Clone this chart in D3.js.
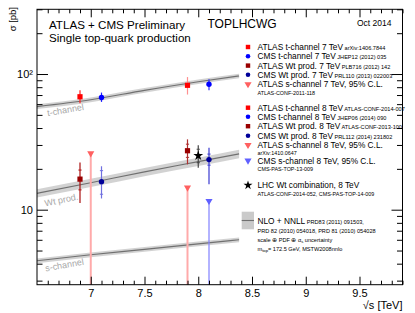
<!DOCTYPE html>
<html>
<head>
<meta charset="utf-8">
<script src="https://cdn.jsdelivr.net/npm/d3@7"></script>
<style>
	body { margin: 0; background: #fff; }
	svg text { font-family: "Liberation Sans", Arial, Helvetica, sans-serif; }
</style>
</head>
<body>
<svg id="chart" width="415" height="313"></svg>
<script>
// theory curves (NLO+NNLL)
var theorySqrts = [6.5, 7.0, 7.5, 8.0, 8.38];
var theoryT = [57.5, 64.6, 75.8, 87.8, 96.8];
var theoryWt = [13.2, 15.8, 19.0, 22.6, 25.8];
var theoryS = [4.2, 4.65, 5.1, 5.6, 6.0];
var theoryUnc = [0.04, 0.07, 0.04];
var theoryNames = ['t-channel', 'Wt prod.', 's-channel'];

// measurements
var measNames = ['ATLAS t 7', 'CMS t 7', 'ATLAS Wt 7', 'CMS Wt 7', 'ATLAS t 8', 'CMS t 8', 'ATLAS Wt 8', 'LHC Wt 8', 'CMS Wt 8'];
var measSqrts = [6.9, 7.1, 6.9, 7.1, 7.9, 8.1, 7.9, 8.0, 8.1];
var measXsec = [68.0, 67.2, 16.8, 16.1, 82.6, 84.0, 27.2, 25.0, 23.4];
var measHi = [76.0, 73.0, 22.3, 20.9, 95.0, 91.4, 33.0, 29.9, 28.6];
var measLo = [61.0, 62.3, 11.2, 12.1, 70.6, 75.8, 21.6, 20.4, 15.4];
var statHi = [null, null, 19.6, 19.4, null, null, 30.4, 27.9, 25.7];
var statLo = [null, null, 14.0, 13.0, null, null, 24.3, 22.2, 21.3];

// s-channel 95% C.L. limits
var limitNames = ['ATLAS s 7', 'ATLAS s 8', 'CMS s 8'];
var limitSqrts = [7.0, 7.9, 8.1];
var limitXsec = [26.5, 14.8, 11.8];

// axis ticks
var xMajor = [7, 7.5, 8, 8.5, 9, 9.5];
var yMajor = [10, 100];
var yMajorLabels = ['10', '10²'];

var measStyle = [
	{ sym: 'square', fill: '#ff0000', bar: '#ff2020' },
	{ sym: 'circle', fill: '#0000ff', bar: '#2020ff' },
	{ sym: 'square', fill: '#990000', bar: '#aa1010' },
	{ sym: 'circle', fill: '#000099', bar: '#7070e0' },
	{ sym: 'square', fill: '#ff0000', bar: '#ff9090' },
	{ sym: 'circle', fill: '#0000ff', bar: '#3030ff' },
	{ sym: 'square', fill: '#990000', bar: '#b03030' },
	{ sym: 'star', fill: '#000000', bar: '#444444' },
	{ sym: 'circle', fill: '#000099', bar: '#3a3ad0' }
];
var limitStyle = [
	{ fill: '#ff6060', line: '#ffaaaa', w: 2 },
	{ fill: '#ff6060', line: '#ffaaaa', w: 2 },
	{ fill: '#6060ff', line: '#8080ff', w: 1.2 }
];

var width = 415, height = 313;
var mLeft = 37, mRight = 402.5, mTop = 9.3, mBottom = 284.7;

var svg = d3.select('#chart');
var x = d3.scaleLinear().domain([6.5, 9.9]).range([mLeft, mRight]);
var y = d3.scaleLog().domain([2.8, 300]).range([mBottom, mTop]);

var plot = svg.append('g');

// theory bands
var bandFill = '#cacaca', bandLine = '#707070';
[theoryT, theoryWt, theoryS].forEach(function(vals, k) {
	var pts = theorySqrts.map(function(s, i) { return [s, vals[i]]; });
	var u = theoryUnc[k];
	var area = d3.area().curve(d3.curveMonotoneX)
		.x(function(d) { return x(d[0]); })
		.y0(function(d) { return y(d[1] * (1 - u)); })
		.y1(function(d) { return y(d[1] * (1 + u)); });
	var line = d3.line().curve(d3.curveMonotoneX)
		.x(function(d) { return x(d[0]); })
		.y(function(d) { return y(d[1]); });
	plot.append('path').attr('d', area(pts)).attr('fill', bandFill).attr('opacity', 0.85);
	plot.append('path').attr('d', line(pts)).attr('fill', 'none').attr('stroke', bandLine).attr('stroke-width', 1.1);
});

// band labels
var bandLabelPos = [[66, 113, -10], [62, 203, -12], [65, 268, -10]];
theoryNames.forEach(function(n, k) {
	var p = bandLabelPos[k];
	plot.append('text').attr('transform', 'translate(' + p[0] + ',' + p[1] + ') rotate(' + p[2] + ')')
		.attr('text-anchor', 'middle').attr('font-size', 9).attr('fill', '#a8a8a8').text(n);
});

// limits: vertical line down to the axis plus a down triangle
var tri = d3.symbol().type(d3.symbolTriangle).size(22);
limitSqrts.forEach(function(s, i) {
	var st = limitStyle[i];
	plot.append('line').attr('x1', x(s)).attr('x2', x(s))
		.attr('y1', y(limitXsec[i])).attr('y2', mBottom)
		.attr('stroke', st.line).attr('stroke-width', st.w);
	plot.append('path').attr('d', tri())
		.attr('transform', 'translate(' + x(s) + ',' + (y(limitXsec[i]) + 1) + ') rotate(180)')
		.attr('fill', st.fill);
});

// measurements
function drawSymbol(g, sym, cx, cy, fill, scale) {
	scale = scale || 1;
	if (sym === 'square') {
		g.append('rect').attr('x', cx - 2.6 * scale).attr('y', cy - 2.6 * scale)
			.attr('width', 5.2 * scale).attr('height', 5.2 * scale).attr('fill', fill);
	} else if (sym === 'circle') {
		g.append('circle').attr('cx', cx).attr('cy', cy).attr('r', 2.7 * scale).attr('fill', fill);
	} else if (sym === 'star') {
		g.append('path').attr('d', d3.symbol().type(d3.symbolStar).size(30 * scale)())
			.attr('transform', 'translate(' + cx + ',' + cy + ')').attr('fill', fill);
	} else if (sym === 'tri') {
		g.append('path').attr('d', tri()).attr('transform', 'translate(' + cx + ',' + cy + ') rotate(180)').attr('fill', fill);
	}
}

measSqrts.forEach(function(s, i) {
	var st = measStyle[i];
	var cx = x(s);
	plot.append('line').attr('x1', cx).attr('x2', cx)
		.attr('y1', y(measHi[i])).attr('y2', y(measLo[i]))
		.attr('stroke', st.bar).attr('stroke-width', 1.2);
	if (statHi[i] != null) {
		[statHi[i], statLo[i]].forEach(function(v) {
			plot.append('line').attr('x1', cx - 1.6).attr('x2', cx + 1.6)
				.attr('y1', y(v)).attr('y2', y(v))
				.attr('stroke', st.bar).attr('stroke-width', 1);
		});
	}
	drawSymbol(plot, st.sym, cx, y(measXsec[i]), st.fill);
});

// frame and axes
var axisColor = '#000';
svg.append('rect').attr('x', mLeft).attr('y', mTop).attr('width', mRight - mLeft).attr('height', mBottom - mTop)
	.attr('fill', 'none').attr('stroke', axisColor).attr('stroke-width', 1);

var xMinor = d3.range(66, 100).map(function(v) { return v / 10; }).filter(function(v) { return xMajor.indexOf(v) < 0; });
var yMinor = [3, 4, 5, 6, 7, 8, 9, 20, 30, 40, 50, 60, 70, 80, 90, 200, 300];

function styleAxis(g) {
	g.select('.domain').remove();
	g.selectAll('line').attr('stroke', axisColor).attr('stroke-width', 1);
	g.selectAll('text').attr('font-family', '"Liberation Sans", Arial, sans-serif').attr('fill', '#000');
}

svg.append('g').attr('transform', 'translate(0,' + mBottom + ')')
	.call(d3.axisBottom(x).tickValues(xMajor).tickSize(-8).tickPadding(5).tickFormat(d3.format('')))
	.call(styleAxis).selectAll('text').attr('font-size', 11);
svg.append('g').attr('transform', 'translate(0,' + mBottom + ')')
	.call(d3.axisBottom(x).tickValues(xMinor).tickSize(-4).tickFormat('')).call(styleAxis);
svg.append('g').attr('transform', 'translate(0,' + mTop + ')')
	.call(d3.axisTop(x).tickValues(xMajor).tickSize(-8).tickFormat('')).call(styleAxis);
svg.append('g').attr('transform', 'translate(0,' + mTop + ')')
	.call(d3.axisTop(x).tickValues(xMinor).tickSize(-4).tickFormat('')).call(styleAxis);

svg.append('g').attr('transform', 'translate(' + mLeft + ',0)')
	.call(d3.axisLeft(y).tickValues(yMajor).tickSize(-11).tickPadding(4)
		.tickFormat(function(d, i) { return yMajorLabels[i]; }))
	.call(styleAxis).selectAll('text').attr('font-size', 11);
svg.append('g').attr('transform', 'translate(' + mLeft + ',0)')
	.call(d3.axisLeft(y).tickValues(yMinor).tickSize(-5.5).tickFormat('')).call(styleAxis);
svg.append('g').attr('transform', 'translate(' + mRight + ',0)')
	.call(d3.axisRight(y).tickValues(yMajor).tickSize(-11).tickFormat('')).call(styleAxis);
svg.append('g').attr('transform', 'translate(' + mRight + ',0)')
	.call(d3.axisRight(y).tickValues(yMinor).tickSize(-5.5).tickFormat('')).call(styleAxis);

// axis titles
svg.append('text').attr('transform', 'translate(16,7) rotate(-90)').attr('text-anchor', 'end')
	.attr('font-size', 9.5).text('σ [pb]');
svg.append('text').attr('x', mRight).attr('y', 309).attr('text-anchor', 'end')
	.attr('font-size', 11).text('√s [TeV]');

// header texts
svg.append('text').attr('x', 49).attr('y', 29.3).attr('font-size', 11.6).text('ATLAS + CMS Preliminary');
svg.append('text').attr('x', 49).attr('y', 41.9).attr('font-size', 11.6).text('Single top-quark production');
svg.append('text').attr('x', 207.5).attr('y', 28.3).attr('font-size', 12).text('TOPLHCWG');
svg.append('text').attr('x', 357).attr('y', 25.7).attr('font-size', 8.5).text('Oct 2014');

// legend
var legend = [
	{ sym: 'square', fill: '#ff0000', text: 'ATLAS t-channel 7 TeV', ref: 'arXiv:1406.7844', y: 50 },
	{ sym: 'circle', fill: '#0000ff', text: 'CMS t-channel 7 TeV', ref: 'JHEP12 (2012) 035', y: 59.3 },
	{ sym: 'square', fill: '#990000', text: 'ATLAS Wt prod. 7 TeV', ref: 'PLB716 (2012) 142', y: 68.6 },
	{ sym: 'circle', fill: '#000099', text: 'CMS Wt prod. 7 TeV', ref: 'PRL110 (2013) 022003', y: 77.8 },
	{ sym: 'tri', fill: '#ff6060', text: 'ATLAS s-channel 7 TeV, 95% C.L.', ref2: 'ATLAS-CONF-2011-118', y: 87.2 },
	{ sym: 'square', fill: '#ff0000', text: 'ATLAS t-channel 8 TeV', ref: 'ATLAS-CONF-2014-007', y: 110.7 },
	{ sym: 'circle', fill: '#0000ff', text: 'CMS t-channel 8 TeV', ref: 'JHEP06 (2014) 090', y: 119.8 },
	{ sym: 'square', fill: '#990000', text: 'ATLAS Wt prod. 8 TeV', ref: 'ATLAS-CONF-2013-100', y: 129.2 },
	{ sym: 'circle', fill: '#000099', text: 'CMS Wt prod. 8 TeV', ref: 'PRL112 (2014) 231802', y: 138.8 },
	{ sym: 'tri', fill: '#ff6060', text: 'ATLAS s-channel 8 TeV, 95% C.L.', ref2: 'arXiv:1410.0647', y: 148.0 },
	{ sym: 'tri', fill: '#6060ff', text: 'CMS s-channel 8 TeV, 95% C.L.', ref2: 'CMS-PAS-TOP-13-009', y: 163.6 },
	{ sym: 'star', fill: '#000000', text: 'LHC Wt combination, 8 TeV', ref2: 'ATLAS-CONF-2014-052, CMS-PAS-TOP-14-009', y: 188.3 }
];
var legX = 248, legTextX = 257.5;
var lg = svg.append('g');
legend.forEach(function(e) {
	drawSymbol(lg, e.sym, legX, e.y - 3, e.fill, 0.85);
	var t = lg.append('text').attr('x', legTextX).attr('y', e.y).attr('font-size', 8.3).text(e.text);
	if (e.ref) {
		t.append('tspan').attr('font-size', 5.6).text(' ' + e.ref);
	}
	if (e.ref2) {
		lg.append('text').attr('x', legTextX).attr('y', e.y + 7.3).attr('font-size', 5.4).text(e.ref2);
	}
});

// theory legend entry
lg.append('rect').attr('x', 241.7).attr('y', 211.7).attr('width', 12.3).attr('height', 17.6).attr('fill', bandFill);
lg.append('line').attr('x1', 241.7).attr('x2', 254).attr('y1', 220.5).attr('y2', 220.5)
	.attr('stroke', bandLine).attr('stroke-width', 1.1);
var th = lg.append('text').attr('x', legTextX).attr('y', 223.5).attr('font-size', 8.3).text('NLO + NNLL');
th.append('tspan').attr('font-size', 5.6).text(' PRD83 (2011) 091503,');
lg.append('text').attr('x', legTextX).attr('y', 232.5).attr('font-size', 5.6).text('PRD 82 (2010) 054018, PRD 81 (2010) 054028');
var t3 = lg.append('text').attr('x', legTextX).attr('y', 241.5).attr('font-size', 5.6).text('scale ⊕ PDF ⊕ α');
t3.append('tspan').attr('font-size', 4.2).attr('dy', 1.5).text('s');
t3.append('tspan').attr('dy', -1.5).text(' uncertainty');
var t4 = lg.append('text').attr('x', legTextX).attr('y', 250.5).attr('font-size', 5.6).text('m');
t4.append('tspan').attr('font-size', 4.2).attr('dy', 1.5).text('top');
t4.append('tspan').attr('dy', -1.5).text('= 172.5 GeV, MSTW2008nnlo');
</script>
</body>
</html>
